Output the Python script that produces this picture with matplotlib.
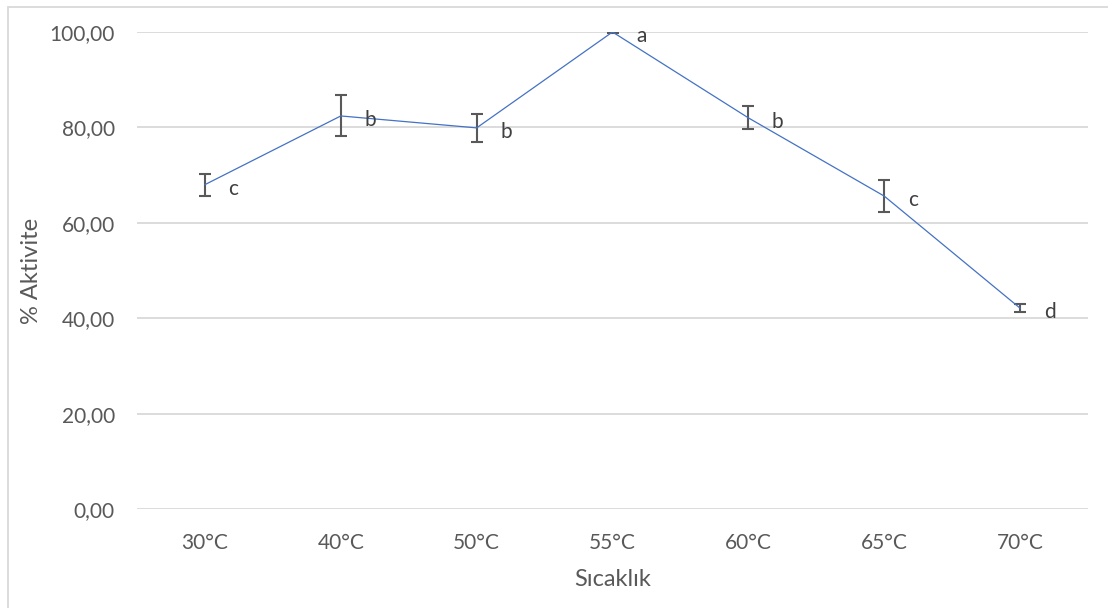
import matplotlib
matplotlib.use("Agg")
import matplotlib.pyplot as plt
from matplotlib.patches import Rectangle

# data
temps = ["30°C", "40°C", "50°C", "55°C", "60°C", "65°C", "70°C"]
activity = [68.0, 82.4, 79.9, 100.0, 82.0, 65.6, 42.1]
errors = [2.3, 4.3, 3.0, 0.3, 2.4, 3.3, 0.9]
letters = ["c", "b", "b", "a", "b", "c", "d"]
yticks = [0, 20, 40, 60, 80, 100]

plt.rcParams["font.family"] = ["Lato", "DejaVu Sans"]

fig = plt.figure(figsize=(11.08, 6.08), dpi=100)
ax = fig.add_axes([137 / 1108, 1 - 509 / 608, (1088 - 137) / 1108, (509 - 32) / 608])

x = list(range(len(temps)))

# gridlines
for t in yticks:
    ax.axhline(t, color="#D9D9D9", lw=1.3, zorder=0)

ax.errorbar(x, activity, yerr=errors, fmt="none", ecolor="#595959",
            elinewidth=1.5, capsize=4, capthick=1.5, zorder=2)
ax.plot(x, activity, color="#4472C4", lw=0.9, zorder=3)

for xi, yi, lab in zip(x, activity, letters):
    ax.annotate(lab, (xi, yi), xytext=(17, -3), textcoords="offset points",
                ha="left", va="center", fontsize=15, color="#404040")

ax.set_xlim(-0.5, len(temps) - 0.5)
ax.set_ylim(0, 100)
ax.set_xticks(x)
ax.set_xticklabels(temps)
ax.set_yticks(yticks)
ax.set_yticklabels([f"{t:.2f}".replace(".", ",") for t in yticks])
ax.tick_params(length=0, labelsize=15, labelcolor="#595959")
ax.tick_params(axis="x", pad=17)
ax.tick_params(axis="y", pad=16)
for s in ax.spines.values():
    s.set_visible(False)

ax.set_xlabel("Sıcaklık", fontsize=17, color="#595959", labelpad=12)
ax.set_ylabel("% Aktivite", fontsize=17, color="#595959", labelpad=5)

# chart area border
fig.add_artist(Rectangle((8 / 1108, -0.1), 1.2, 1 - 7 / 608 + 0.1,
                         transform=fig.transFigure, fill=False,
                         edgecolor="#D9D9D9", lw=1.3))

fig.savefig("out.png", dpi=100)
